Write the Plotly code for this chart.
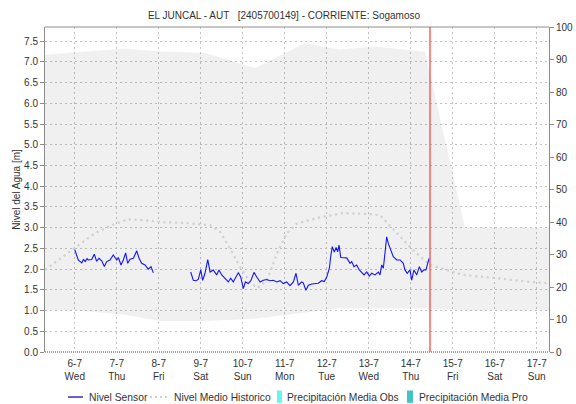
import plotly.graph_objects as go

# ---------------------------------------------------------------- data
title_text = "EL JUNCAL - AUT\u00a0\u00a0\u00a0[2405700149] - CORRIENTE: Sogamoso"

# Sensor water level (m); None marks the transmission gap
sensor_times = [
    "2022-07-06 00:00", "2022-07-06 02:00", "2022-07-06 04:00", "2022-07-06 05:00",
    "2022-07-06 06:00", "2022-07-06 07:00", "2022-07-06 07:45", "2022-07-06 09:40",
    "2022-07-06 11:10", "2022-07-06 12:30", "2022-07-06 13:50", "2022-07-06 15:25",
    "2022-07-06 16:55", "2022-07-06 18:15", "2022-07-06 20:10", "2022-07-06 22:00",
    "2022-07-07 00:00", "2022-07-07 00:55", "2022-07-07 02:25", "2022-07-07 03:45",
    "2022-07-07 05:05", "2022-07-07 06:15", "2022-07-07 07:35", "2022-07-07 09:30",
    "2022-07-07 11:25", "2022-07-07 12:45", "2022-07-07 14:15", "2022-07-07 16:10",
    "2022-07-07 18:00", "2022-07-07 19:35", "2022-07-07 20:55",
    "2022-07-08 06:00",
    "2022-07-08 18:15", "2022-07-08 19:45", "2022-07-08 21:15", "2022-07-08 22:35",
    "2022-07-09 00:00", "2022-07-09 01:05", "2022-07-09 02:25", "2022-07-09 04:00",
    "2022-07-09 05:20", "2022-07-09 07:10", "2022-07-09 09:05", "2022-07-09 10:25",
    "2022-07-09 12:00", "2022-07-09 13:55", "2022-07-09 15:45", "2022-07-09 17:05",
    "2022-07-09 18:35", "2022-07-09 20:05", "2022-07-09 21:30", "2022-07-09 22:50",
    "2022-07-10 00:20", "2022-07-10 01:30", "2022-07-10 03:10", "2022-07-10 04:45",
    "2022-07-10 06:25", "2022-07-10 08:00", "2022-07-10 09:55", "2022-07-10 11:45",
    "2022-07-10 13:40", "2022-07-10 15:35", "2022-07-10 17:30", "2022-07-10 19:25",
    "2022-07-10 21:20", "2022-07-10 23:10", "2022-07-11 01:05", "2022-07-11 03:00",
    "2022-07-11 04:55", "2022-07-11 06:25", "2022-07-11 07:45", "2022-07-11 09:40",
    "2022-07-11 10:35", "2022-07-11 12:05", "2022-07-11 13:30", "2022-07-11 15:25",
    "2022-07-11 17:20", "2022-07-11 19:10", "2022-07-11 21:05", "2022-07-11 22:35",
    "2022-07-12 00:00", "2022-07-12 01:30", "2022-07-12 02:15", "2022-07-12 03:10",
    "2022-07-12 04:20", "2022-07-12 05:20", "2022-07-12 06:15", "2022-07-12 07:00",
    "2022-07-12 08:00", "2022-07-12 09:30", "2022-07-12 11:25", "2022-07-12 13:20",
    "2022-07-12 14:15", "2022-07-12 15:35", "2022-07-12 17:05", "2022-07-12 18:35",
    "2022-07-12 20:00", "2022-07-12 21:20", "2022-07-12 22:50", "2022-07-13 00:20",
    "2022-07-13 01:40", "2022-07-13 03:35", "2022-07-13 05:30", "2022-07-13 06:25",
    "2022-07-13 07:25", "2022-07-13 08:20", "2022-07-13 09:15", "2022-07-13 10:15",
    "2022-07-13 11:10", "2022-07-13 12:05", "2022-07-13 14:00", "2022-07-13 16:00",
    "2022-07-13 17:55", "2022-07-13 19:45", "2022-07-13 20:40", "2022-07-13 22:00",
    "2022-07-13 23:35", "2022-07-14 00:30", "2022-07-14 01:50", "2022-07-14 03:25",
    "2022-07-14 04:55", "2022-07-14 06:15", "2022-07-14 07:35", "2022-07-14 08:40",
    "2022-07-14 10:00", "2022-07-14 10:30",
]
sensor_level = [
    2.47, 2.22, 2.15, 2.23, 2.18, 2.25, 2.22, 2.23,
    2.36, 2.19, 2.26, 2.20, 2.06, 2.18, 2.22, 2.34,
    2.22, 2.28, 2.10, 2.22, 2.39, 2.14, 2.24, 2.26,
    2.44, 2.26, 2.14, 2.10, 2.00, 2.06, 1.91,
    None,
    1.93, 1.73, 1.72, 1.75,
    1.98, 1.73, 1.90, 2.23, 1.93, 1.98, 1.86, 1.98,
    1.86, 1.78, 1.69, 1.78, 1.69, 1.81, 1.91, 1.81,
    1.53, 1.69, 1.65, 1.73, 1.92, 1.81, 1.69, 1.73,
    1.75, 1.72, 1.73, 1.69, 1.72, 1.65, 1.69, 1.60,
    1.69, 1.90, 1.61, 1.69, 1.67, 1.49, 1.61, 1.64,
    1.65, 1.66, 1.72, 1.70,
    1.81, 2.02, 2.30, 2.54, 2.41, 2.52, 2.42, 2.58,
    2.28, 2.28, 2.27, 2.14, 2.18, 2.06, 2.10, 1.98,
    1.93, 1.86, 1.93, 1.83, 1.90, 1.86, 1.93, 1.86,
    2.10, 2.02, 2.38, 2.78, 2.62, 2.50, 2.30, 2.22,
    2.22, 2.14, 1.98, 1.90, 1.98, 1.73, 1.98, 1.86,
    2.06, 1.93, 1.98, 1.98, 2.22, 2.26,
]

# Historic mean level (m)
mean_times = [
    "2022-07-05 07:00", "2022-07-06 00:00", "2022-07-06 11:35", "2022-07-06 21:20",
    "2022-07-07 06:25", "2022-07-07 16:10", "2022-07-08 01:50", "2022-07-08 12:05",
    "2022-07-09 05:20", "2022-07-09 11:00", "2022-07-09 16:45", "2022-07-09 22:25",
    "2022-07-10 04:10", "2022-07-10 08:10", "2022-07-10 13:50", "2022-07-10 19:35",
    "2022-07-11 01:15", "2022-07-11 07:00", "2022-07-11 20:10", "2022-07-12 09:15",
    "2022-07-12 23:00", "2022-07-13 06:25", "2022-07-13 16:10", "2022-07-14 01:15",
    "2022-07-14 11:00", "2022-07-14 20:45", "2022-07-15 05:50", "2022-07-16 01:15",
    "2022-07-16 20:10", "2022-07-17 07:00",
]
mean_level = [
    1.98, 2.50, 2.87, 3.06, 3.20, 3.18, 3.13, 3.12,
    3.06, 2.90, 2.50, 2.05, 1.69, 1.54, 1.73, 2.38,
    2.87, 3.10, 3.25, 3.35, 3.33, 3.30, 2.87, 2.46,
    2.10, 1.98, 1.86, 1.78, 1.69, 1.66,
]

# Historic envelope (min / max, m)
band_times = [
    "2022-07-05 07:00", "2022-07-06 00:00", "2022-07-07 04:40", "2022-07-08 00:40",
    "2022-07-09 02:25", "2022-07-10 07:00", "2022-07-11 11:35", "2022-07-12 07:35",
    "2022-07-13 03:35", "2022-07-14 08:10", "2022-07-15 07:00", "2022-07-17 07:00",
]
band_max = [7.17, 7.22, 7.32, 7.25, 7.22, 6.85, 7.45, 7.30, 7.37, 7.24, 3.00, 3.00]
band_min = [1.01, 1.01, 0.90, 0.75, 0.75, 0.80, 0.95, 1.05, 1.05, 1.05, 1.00, 1.00]

# Current time marker
now_time = "2022-07-14 11:00"

# Axis ticks
day_ticks = ["2022-07-%02d" % d for d in range(6, 18)]
day_labels = ["6-7", "7-7", "8-7", "9-7", "10-7", "11-7",
              "12-7", "13-7", "14-7", "15-7", "16-7", "17-7"]
weekday_labels = ["Wed", "Thu", "Fri", "Sat", "Sun", "Mon",
                  "Tue", "Wed", "Thu", "Fri", "Sat", "Sun"]
x_range = ["2022-07-05 07:00", "2022-07-17 07:00"]
level_range = [0, 7.84]
rain_range = [0, 100]

legend_names = ["Nivel Sensor", "Nivel Medio Historico",
                "Precipitación Media Obs", "Precipitación Media Pro"]

# ---------------------------------------------------------------- style
FONT = "Liberation Sans, Arial, sans-serif"
TXT = "#333333"
AXIS = "#8c8c8c"
GRID = "#c4c4c4"
BLUE = "#1414ff"
MEAN = "#d0d0d0"
OBS = "#66f4f4"
PRO = "#40c4c4"

fig = go.Figure()

fig.add_trace(go.Scatter(x=band_times, y=band_min, mode="lines",
                         line=dict(width=0), hoverinfo="skip", showlegend=False))
fig.add_trace(go.Scatter(x=band_times, y=band_max, mode="lines",
                         line=dict(width=0), fill="tonexty",
                         fillcolor="rgba(0,0,0,0.058)", hoverinfo="skip",
                         showlegend=False))
fig.add_trace(go.Scatter(x=mean_times, y=mean_level, mode="lines",
                         name=legend_names[1],
                         line=dict(color=MEAN, width=2.2, dash="2.2px,3.6px"),
                         showlegend=False))
fig.add_trace(go.Scatter(x=sensor_times, y=sensor_level, mode="lines",
                         name=legend_names[0], connectgaps=False,
                         line=dict(color=BLUE, width=1.1), showlegend=False))
# precipitation series (no values in this window) live on the right axis
fig.add_trace(go.Bar(x=[], y=[], name=legend_names[2], marker_color=OBS,
                     yaxis="y2", showlegend=False))
fig.add_trace(go.Bar(x=[], y=[], name=legend_names[3], marker_color=PRO,
                     yaxis="y2", showlegend=False))

tick_text = [f"{d}<br>{w}" for d, w in zip(day_labels, weekday_labels)]

fig.update_layout(
    width=576, height=404,
    margin=dict(l=45, r=27, t=27, b=52, autoexpand=False),
    paper_bgcolor="white", plot_bgcolor="white",
    font=dict(family=FONT, size=10, color=TXT),
    title=dict(text=title_text, x=0.493, xanchor="center", y=1 - 15 / 404,
               yanchor="middle", font=dict(family=FONT, size=10, color=TXT)),
    showlegend=False,
    xaxis=dict(type="date", range=x_range, tickvals=day_ticks, ticktext=tick_text,
               showgrid=True, gridcolor=GRID, griddash="2px,3px", gridwidth=1,
               ticks="", showline=False, zeroline=False, automargin=False,
               ticklabelstandoff=4,
               tickfont=dict(family=FONT, size=10, color=TXT)),
    yaxis=dict(range=level_range, dtick=0.5, tickformat=".1f",
               showgrid=True, gridcolor=GRID, griddash="2px,3px", gridwidth=1,
               ticks="outside", ticklen=4, tickcolor=AXIS, automargin=False,
               showline=True, linecolor=AXIS, linewidth=1, zeroline=False,
               title=dict(text="Nivel del Agua [m]", standoff=1,
                          font=dict(family=FONT, size=10, color=TXT)),
               tickfont=dict(family=FONT, size=10, color=TXT)),
    yaxis2=dict(range=rain_range, dtick=10, overlaying="y", side="right",
                showgrid=False, zeroline=False, automargin=False,
                ticks="outside", ticklen=4, tickcolor=AXIS,
                showline=True, linecolor=AXIS, linewidth=1,
                tickfont=dict(family=FONT, size=10, color=TXT)),
)

shapes = [
    # frame: solid top edge, dotted baseline
    dict(type="line", xref="paper", yref="paper", x0=0, x1=1, y0=1, y1=1,
         line=dict(color=AXIS, width=1)),
    dict(type="line", xref="paper", yref="paper", x0=0, x1=1, y0=0, y1=0,
         line=dict(color="#444444", width=1, dash="1px,1px")),
    # current time marker
    dict(type="line", xref="x", yref="paper", x0=now_time, x1=now_time, y0=0, y1=1,
         line=dict(color="#ff3b3b", width=1.2)),
]

# legend row drawn below the axis
LEG_Y = -0.1385
shapes += [
    dict(type="line", xref="paper", yref="paper", x0=0.0456, x1=0.0754,
         y0=LEG_Y, y1=LEG_Y, line=dict(color="#1010c0", width=1.3)),
    dict(type="line", xref="paper", yref="paper", x0=0.2083, x1=0.2421,
         y0=LEG_Y, y1=LEG_Y, line=dict(color=MEAN, width=2, dash="2px,3px")),
    dict(type="rect", xref="paper", yref="paper", x0=0.4603, x1=0.4702,
         y0=LEG_Y + 0.020, y1=LEG_Y - 0.018, line=dict(width=0), fillcolor=OBS),
    dict(type="rect", xref="paper", yref="paper", x0=0.7183, x1=0.7302,
         y0=LEG_Y + 0.020, y1=LEG_Y - 0.018, line=dict(width=0), fillcolor=PRO),
]
fig.update_layout(shapes=shapes)

legend_x = [0.0833, 0.252, 0.4762, 0.7381]
for name, lx in zip(legend_names, legend_x):
    fig.add_annotation(text=name, xref="paper", yref="paper", x=lx, y=LEG_Y,
                       xanchor="left", yanchor="middle", showarrow=False,
                       font=dict(family=FONT, size=10.3, color=TXT))

fig.write_html("out.html")
